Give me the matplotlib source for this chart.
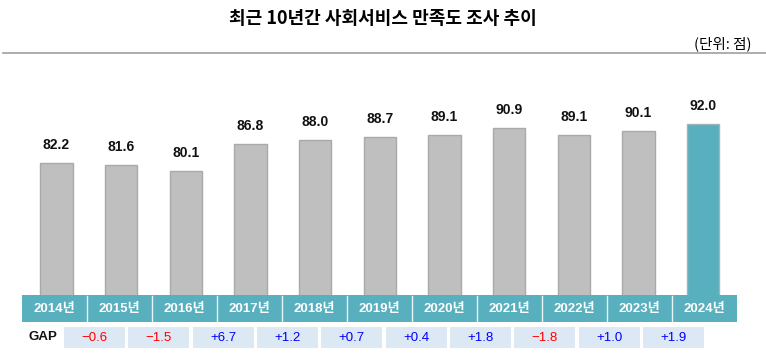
import matplotlib.pyplot as plt
from matplotlib.patches import Rectangle

# data
years = ['2014년', '2015년', '2016년', '2017년', '2018년', '2019년',
         '2020년', '2021년', '2022년', '2023년', '2024년']
scores = [82.2, 81.6, 80.1, 86.8, 88.0, 88.7, 89.1, 90.9, 89.1, 90.1, 92.0]
gaps = ['−0.6', '−1.5', '+6.7', '+1.2', '+0.7', '+0.4', '+1.8', '−1.8', '+1.0', '+1.9']

plt.rcParams['font.family'] = ['Liberation Sans', 'Noto Sans CJK KR', 'DejaVu Sans']

W, H = 766, 358
fig = plt.figure(figsize=(W / 100, H / 100), dpi=100)


def px_axes(x0, y0, x1, y1):
    # axes from pixel box (top-left origin)
    return fig.add_axes([x0 / W, 1 - y1 / H, (x1 - x0) / W, (y1 - y0) / H])


teal = '#58afbd'
grey = '#bfbfbf'
n = len(years)

# bars (slightly tighter pitch than the year band)
ax = px_axes(24, 93.5, 735.5, 295)
colors = [grey] * (n - 1) + [teal]
edges = ['#a9a9a9'] * (n - 1) + ['#9fb5b9']
ax.bar(range(n), scores, width=0.5, bottom=0, color=colors, edgecolor=edges, linewidth=1)
for i, v in enumerate(scores):
    ax.annotate(f'{v:.1f}', (i, v), xytext=(0, 8), textcoords='offset points',
                ha='center', va='bottom', fontsize=10, fontweight='bold', color='#111111')
ax.set_xlim(-0.5, n - 0.5)
ax.set_ylim(49, 99.6)
ax.axis('off')

# year band
band = px_axes(22, 295, 737, 322)
band.set_xlim(-0.5, n - 0.5)
band.set_ylim(0, 1)
band.add_patch(Rectangle((-0.5, 0), n, 1, color=teal, lw=0))
band.axhline(1, color='#8a9ea2', lw=1.2)
for i in range(1, n):
    band.plot([i - 0.5, i - 0.5], [0.03, 0.97], color='#e8f4f6', lw=1)
for i, y in enumerate(years):
    band.text(i, 0.48, y, ha='center', va='center', color='white',
              fontsize=9.5, fontweight='bold')
band.axis('off')

# GAP row
gap_ax = px_axes(22, 327, 737, 348)
gap_ax.set_xlim(-0.5, n - 0.5)
gap_ax.set_ylim(0, 1)
for i, g in enumerate(gaps):
    cx = 0.615 + i * 0.99
    gap_ax.add_patch(Rectangle((cx - 0.47, 0), 0.94, 1, color='#dde8f5', lw=0))
    col = '#ff0000' if g.startswith('−') else '#0000ff'
    gap_ax.text(cx, 0.47, g, ha='center', va='center', color=col, fontsize=9.5)
gap_ax.axis('off')
fig.text(43 / W, 1 - 337 / H, 'GAP', ha='center', va='center', fontsize=9.5,
         fontweight='bold', color='#111111')

# title and unit
fig.text(383 / W, 1 - 19 / H, '최근 10년간 사회서비스 만족도 조사 추이', ha='center', va='center',
         fontsize=13, fontweight='bold', family=['Noto Sans CJK KR'])
fig.text(752 / W, 1 - 44 / H, '(단위: 점)', ha='right', va='center', fontsize=10.5,
         family=['Noto Sans CJK KR'])
fig.add_artist(plt.Line2D([3 / W, 1], [1 - 53 / H, 1 - 53 / H], color='#a0a0a0', lw=1.2))

fig.savefig('out.png', dpi=100)
